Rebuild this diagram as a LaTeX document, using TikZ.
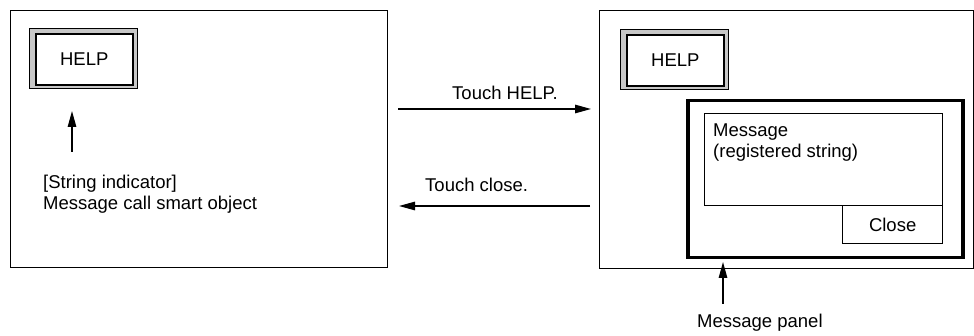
\documentclass[tikz,border=0pt]{standalone}
\usepackage{fontspec}
\setmainfont{Liberation Sans}
\usetikzlibrary{arrows.meta}
\begin{document}
\begin{tikzpicture}[x=1pt,y=-1pt,
  box/.style={draw=black,line width=1.3pt,inner sep=0pt,anchor=north west},
  btnouter/.style={box,fill=black!22,line width=1.2pt,minimum width=108pt,minimum height=60pt},
  btninner/.style={box,fill=white,line width=1.6pt,minimum width=97pt,minimum height=51pt,font=\fontsize{18.5}{20.5}\selectfont},
  lbl/.style={font=\fontsize{18.5}{20.5}\selectfont,inner sep=0pt,anchor=base west,align=left},
  arr/.style={line width=1.3pt,-{Triangle[length=16pt,width=8.5pt]}}]
\useasboundingbox (0,0) rectangle (974,336);
% left screen
\node[box,minimum width=377pt,minimum height=257pt] (scrA) at (10,10) {};
\node[btnouter] (helpAout) at (29,28) {};
\node[btninner] (helpA) at (35,33) {HELP};
\node[lbl] (indtext) at (43,209.5) {[String indicator]\\Message call smart object};
\coordinate (indTail) at (72,152);
\coordinate (indTip) at (72,111);
\draw[arr] (indTail) -- (indTip);
% right screen
\node[box,minimum width=374pt,minimum height=258pt] (scrB) at (599,10) {};
\node[btnouter] (helpBout) at (620,29) {};
\node[btninner] (helpB) at (626,34) {HELP};
\node[box,line width=3.5pt,minimum width=275pt,minimum height=157pt] (panel) at (686,99) {};
\node[box,minimum width=238pt,minimum height=92pt] (msgbox) at (704,113) {};
\node[lbl] (msgtext) at (713,157.5) {Message\\(registered string)};
\node[box,minimum width=100pt,minimum height=38pt,font=\fontsize{18.5}{20.5}\selectfont] (close) at (842,205) {Close};
\coordinate (panTail) at (723,304);
\coordinate (panTip) at (723,262);
\draw[arr] (panTail) -- (panTip);
\node[lbl] (pantext) at (697,328) {Message panel};
% transitions
\coordinate (thS) at (398,109);
\coordinate (thE) at (591,109);
\draw[arr] (thS) -- (thE);
\node[lbl] (thtext) at (452,100) {Touch HELP.};
\coordinate (tcS) at (590,206);
\coordinate (tcE) at (399,206);
\draw[arr] (tcS) -- (tcE);
\node[lbl] (tctext) at (425,192) {Touch close.};
\end{tikzpicture}
\end{document}
